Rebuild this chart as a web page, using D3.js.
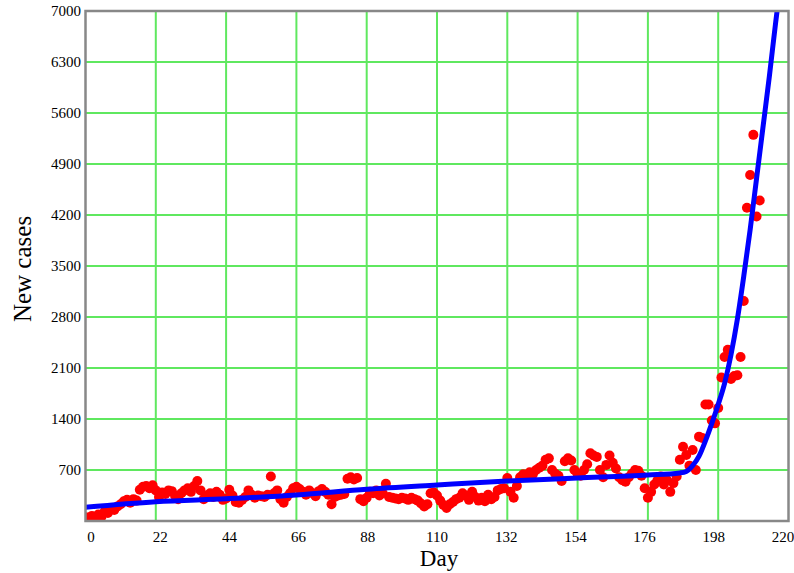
<!DOCTYPE html>
<html><head><meta charset="utf-8">
<script src="https://cdn.jsdelivr.net/npm/d3@7"></script>
<style>html,body{margin:0;padding:0;background:#fff;}svg{display:block;}</style>
</head><body>
<div id="chart"></div>
<script>
// Daily new cases, index = day (0..211)
const newCases = [
  50, 30, 70, 20, 90, 60, 130, 110, 170, 150,
  200, 230, 270, 290, 250, 300, 280, 430, 470, 480,
  450, 490, 420, 330, 390, 370, 420, 410, 350, 300,
  380, 420, 450, 400, 480, 550, 420, 300, 350, 380,
  330, 400, 360, 290, 310, 430, 350, 260, 250, 290,
  330, 420, 360, 320, 350, 340, 330, 360, 610, 380,
  420, 300, 250, 330, 380, 450, 470, 440, 400, 360,
  420, 380, 340, 410, 440, 400, 360, 230, 330, 350,
  360, 370, 580, 600, 570, 590, 300, 270, 320, 400,
  380, 420, 350, 380, 510, 330, 320, 310, 300, 320,
  310, 290, 320, 300, 280, 240, 200, 230, 380, 390,
  350, 280, 220, 180, 230, 260, 300, 320, 380, 350,
  290, 400, 330, 280, 320, 270, 360, 300, 330, 420,
  440, 450, 590, 400, 320, 480, 600, 640, 620, 670,
  640, 700, 730, 760, 840, 860, 700, 650, 620, 550,
  820, 860, 830, 700, 640, 620, 700, 780, 930, 900,
  880, 700, 600, 770, 900, 800, 720, 600, 560, 540,
  600, 650, 700, 690, 620, 450, 320, 400, 500, 560,
  610, 500, 560, 400, 520, 610, 840, 1020, 906, 760,
  975, 700, 1158, 1140, 1600, 1600, 1380, 1340, 1550, 1970,
  2250, 2350, 1950, 1990, 2000, 2250, 3020, 4300, 4750, 5300,
  4180, 4400
];
// Fitted curve
const fitDays   = [0, 22, 44, 66, 88, 110, 132, 154, 176, 186, 188, 190, 192, 194, 196, 198, 200, 202, 204, 206, 208, 210, 212, 214, 216, 217];
const fitValues = [188, 265, 305, 357, 435, 494, 549, 590, 631, 660, 680, 760, 890, 1100, 1340, 1600, 1890, 2280, 2770, 3360, 4000, 4700, 5400, 6100, 6850, 7200];
const xTicks = [0, 22, 44, 66, 88, 110, 132, 154, 176, 198, 220];
const yTicks = [700, 1400, 2100, 2800, 3500, 4200, 4900, 5600, 6300, 7000];

const W = 794, H = 573;
const L = 85.5, R = 788.5, T = 11, B = 521;
const svg = d3.select("#chart").append("svg").attr("width", W).attr("height", H);

const x = d3.scaleLinear().domain([0, 220]).range([L, R]);
const xLab = d3.scaleLinear().domain([0, 220]).range([91, 783]);
const y = d3.scaleLinear().domain([0, 7000]).range([B, T]);

svg.append("defs").append("clipPath").attr("id", "clip")
  .append("rect").attr("x", L).attr("y", T).attr("width", R - L).attr("height", B - T);

// grid
const grid = svg.append("g");
grid.selectAll(".vg").data(xTicks.filter(d => d > 0 && d < 220)).enter().append("line")
  .attr("x1", d => x(d)).attr("x2", d => x(d)).attr("y1", T).attr("y2", B)
  .attr("stroke", "#5fe85f").attr("stroke-width", 2);
grid.selectAll(".hg").data(yTicks.filter(d => d < 7000)).enter().append("line")
  .attr("y1", d => y(d)).attr("y2", d => y(d)).attr("x1", L).attr("x2", R)
  .attr("stroke", "#5fe85f").attr("stroke-width", 2);

// points
const plot = svg.append("g").attr("clip-path", "url(#clip)");
plot.selectAll("circle").data(newCases).enter().append("circle")
  .attr("cx", (d, i) => x(i)).attr("cy", d => y(d)).attr("r", 5)
  .attr("fill", "#ff0000");

// fitted line
const line = d3.line().x(d => x(d[0])).y(d => y(d[1])).curve(d3.curveMonotoneX);
plot.append("path").datum(fitDays.map((d, i) => [d, fitValues[i]]))
  .attr("d", line).attr("fill", "none").attr("stroke", "#0000ff").attr("stroke-width", 5);

// frame
svg.append("rect").attr("x", L).attr("y", T).attr("width", R - L).attr("height", B - T)
  .attr("fill", "none").attr("stroke", "#888").attr("stroke-width", 2.5);

// tick labels
const font = "'Liberation Serif', 'Times New Roman', serif";
svg.selectAll(".yl").data(yTicks).enter().append("text")
  .attr("x", 81).attr("y", d => y(d)).attr("dy", "0.35em").attr("text-anchor", "end")
  .attr("font-family", font).attr("font-size", 15).text(d => d);
svg.selectAll(".xl").data(xTicks).enter().append("text")
  .attr("x", d => xLab(d)).attr("y", 542).attr("text-anchor", "middle")
  .attr("font-family", font).attr("font-size", 15).text(d => d);

svg.append("text").attr("x", 439).attr("y", 566).attr("text-anchor", "middle")
  .attr("font-family", font).attr("font-size", 23).text("Day");
svg.append("text").attr("transform", "translate(31,269) rotate(-90)").attr("text-anchor", "middle")
  .attr("font-family", font).attr("font-size", 25).text("New cases");
</script>
</body></html>
